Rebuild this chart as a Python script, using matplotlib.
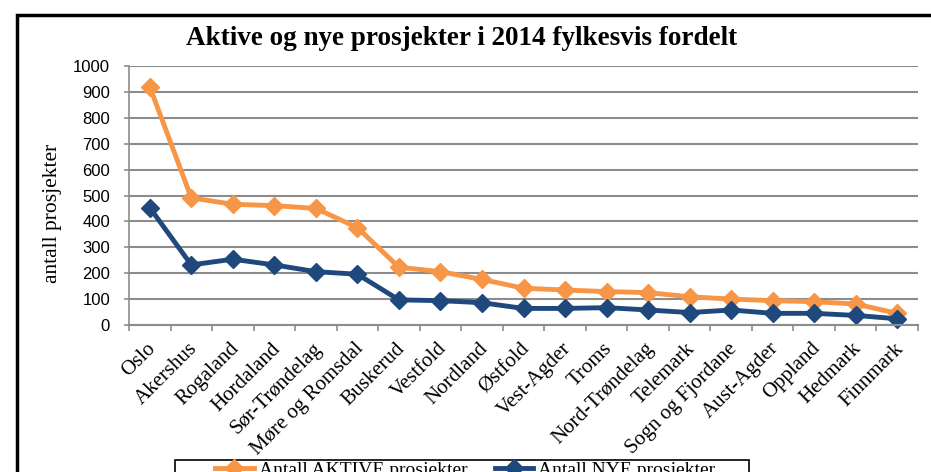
import matplotlib.pyplot as plt
from matplotlib.patches import Rectangle
from matplotlib.ticker import MultipleLocator
from matplotlib.transforms import ScaledTranslation

fylker = ["Oslo", "Akershus", "Rogaland", "Hordaland", "Sør-Trøndelag",
          "Møre og Romsdal", "Buskerud", "Vestfold", "Nordland", "Østfold",
          "Vest-Agder", "Troms", "Nord-Trøndelag", "Telemark",
          "Sogn og Fjordane", "Aust-Agder", "Oppland", "Hedmark", "Finnmark"]
aktive = [920, 491, 466, 461, 450, 376, 223, 206, 176, 142,
          135, 129, 125, 109, 100, 94, 90, 81, 45]
nye = [453, 232, 254, 232, 206, 196, 97, 94, 86, 64,
       64, 67, 58, 48, 58, 45, 45, 37, 24]

orange = "#F79646"
blue = "#1F497D"
grid_c = "#8C8C8C"
serif = "Liberation Serif"

fig = plt.figure(figsize=(9.31, 4.72), dpi=100)
ax = fig.add_axes([129 / 931, 1 - 325 / 472, (918 - 129) / 931, (325 - 66) / 472])

x = list(range(len(fylker)))
ax.plot(x, aktive, color=orange, lw=3.5, marker="D", ms=9,
        label="Antall AKTIVE prosjekter", clip_on=False)
ax.plot(x, nye, color=blue, lw=3.5, marker="D", ms=9,
        label="Antall NYE prosjekter", clip_on=False)

ax.set_xlim(-0.5, len(fylker) - 0.5)
ax.set_ylim(0, 1000)
ax.yaxis.set_major_locator(MultipleLocator(100))
ax.grid(axis="y", color=grid_c, lw=1.5)
ax.set_axisbelow(True)
for s in ["top", "right"]:
    ax.spines[s].set_visible(False)
ax.spines["left"].set_color(grid_c)
ax.spines["bottom"].set_color(grid_c)
ax.spines["left"].set_linewidth(1.2)
ax.spines["bottom"].set_linewidth(1.5)

ax.set_xticks(x)
ax.set_xticks([i - 0.5 for i in range(len(fylker) + 1)], minor=True)
ax.set_xticklabels(fylker, rotation=45, ha="right", va="center",
                   rotation_mode="anchor", fontsize=15, family=serif)
ax.tick_params(axis="x", which="major", length=0, pad=15)
ax.tick_params(axis="x", which="minor", length=4, color=grid_c, width=1.2)
ax.tick_params(axis="y", length=3.6, color=grid_c, width=1.2, pad=10)
shift = ScaledTranslation(3 / 100, 0, fig.dpi_scale_trans)
for lab in ax.get_xticklabels():
    lab.set_transform(lab.get_transform() + shift)
for lab in ax.get_yticklabels():
    lab.set_family("Liberation Sans")
    lab.set_fontsize(12)

fig.text(52 / 931, 1 - 213 / 472, "antall prosjekter", rotation=90,
         ha="center", va="center", fontsize=15.5, family=serif)
fig.text(462 / 931, 1 - 45 / 472, "Aktive og nye prosjekter i 2014 fylkesvis fordelt",
         ha="center", va="baseline", fontsize=19.5, weight="bold", family=serif)

# outer chart border (right and bottom run past the picture edge)
fig.add_artist(Rectangle((17 / 931, -0.1), 1.0, 1.1 - 15 / 472,
                         transform=fig.transFigure, fill=False,
                         lw=2.5, ec="black"))

# legend box, cut off at the bottom like in the original
fig.add_artist(Rectangle((175 / 931, -0.1), (749 - 175) / 931, 0.1 + 1 - 460 / 472,
                         transform=fig.transFigure, fill=False,
                         lw=1.2, ec="black"))
fig.legend(loc="upper left", bbox_to_anchor=(215 / 931, 1 - 461 / 472),
           ncol=2, frameon=False, prop={"family": serif, "size": 14},
           handlelength=2.0, handletextpad=0.25, columnspacing=1.4,
           borderpad=0, borderaxespad=0)

fig.savefig("out.png", dpi=100)
